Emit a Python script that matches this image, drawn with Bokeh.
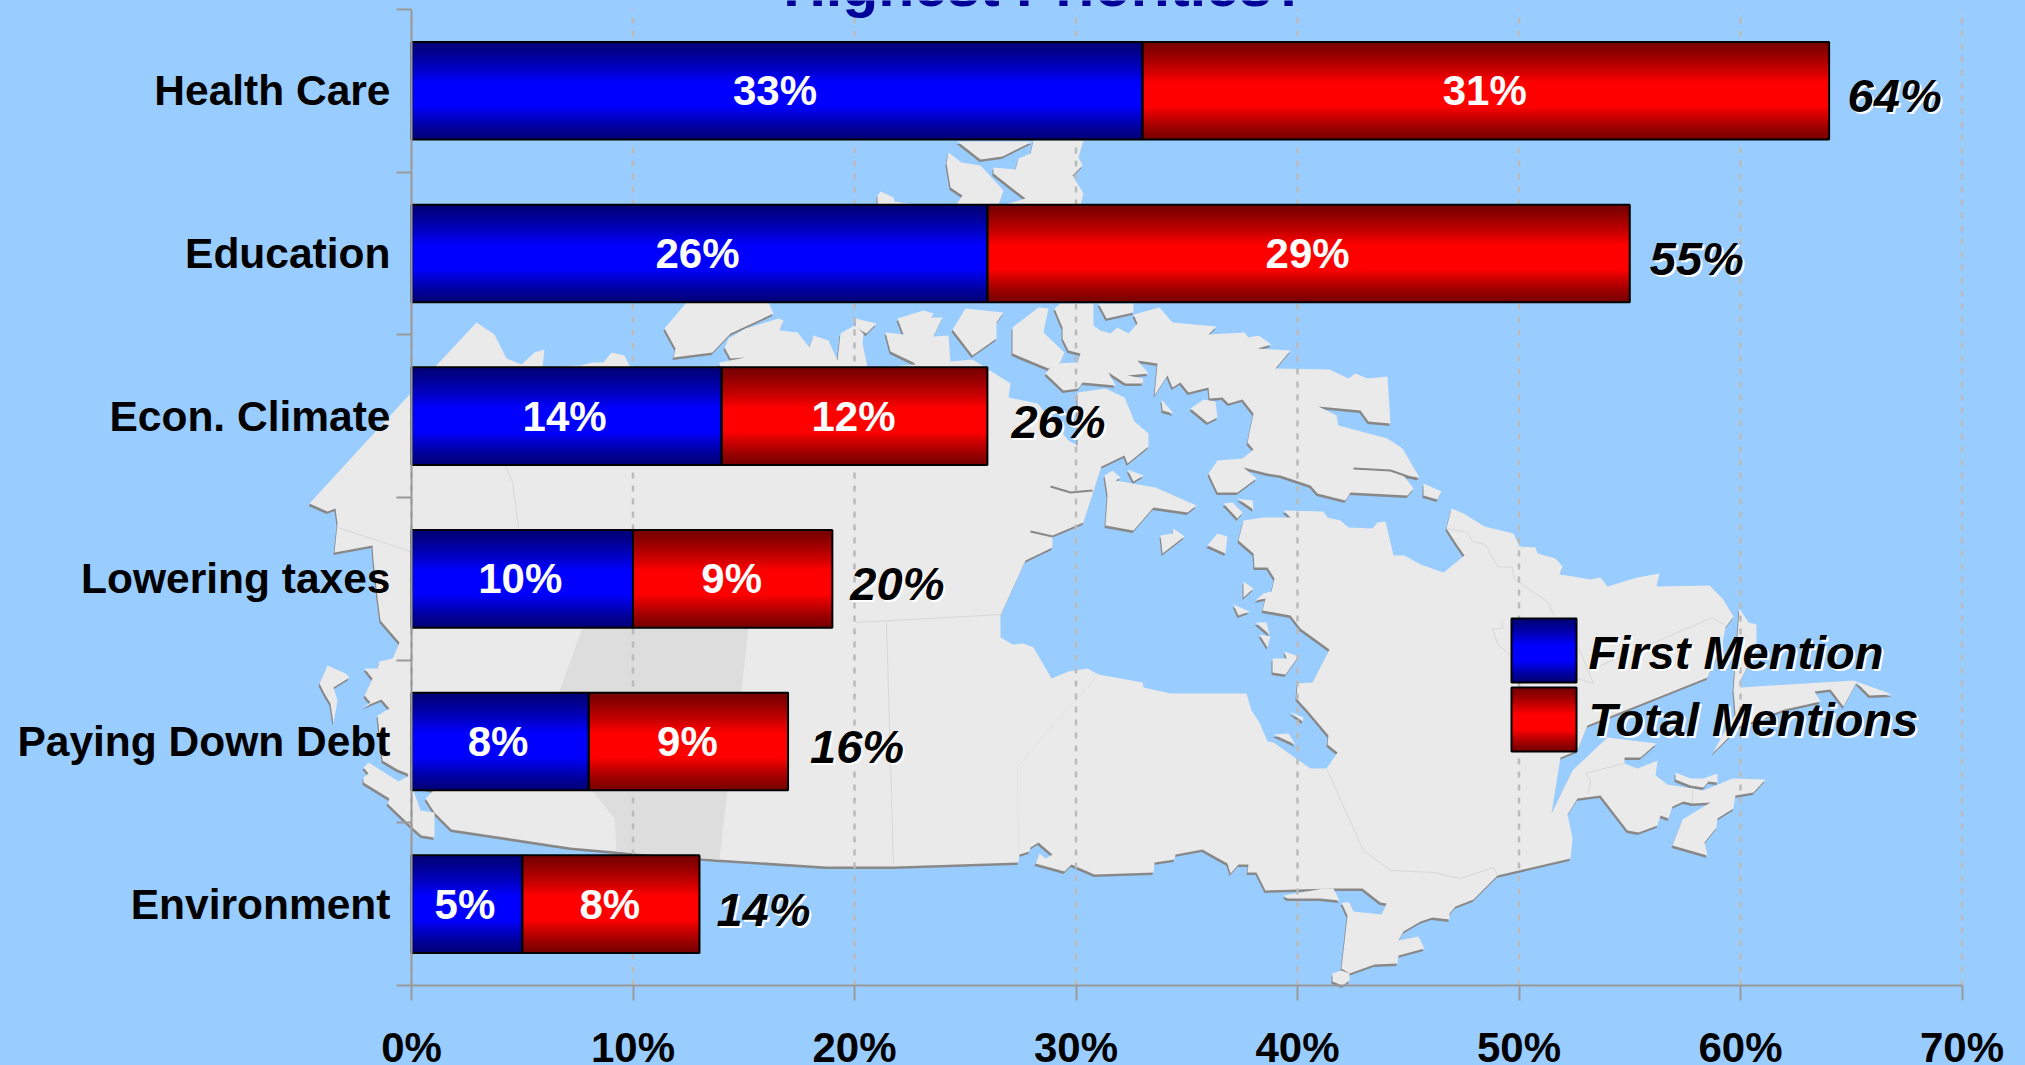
from bokeh.embed import file_html
from bokeh.resources import INLINE
from bokeh.plotting import figure
from bokeh.models import LinearAxis, FixedTicker, ColumnDataSource, Range1d
from bokeh.core.properties import value

# ---- chart data -------------------------------------------------------
categories = ["Health Care", "Education", "Econ. Climate", "Lowering taxes", "Paying Down Debt", "Environment"]
first_mention = [33, 26, 14, 10, 8, 5]
other_mentions = [31, 29, 12, 9, 9, 8]
total_labels = ["64%", "55%", "26%", "20%", "16%", "14%"]
x_ticks = [0, 10, 20, 30, 40, 50, 60, 70]
x_tick_labels = ["0%", "10%", "20%", "30%", "40%", "50%", "60%", "70%"]
legend_labels = ["First Mention", "Total Mentions"]
title_text = "Highest Priorities?"

# ---- layout (page pixels) -----------------------------------------------
W, H = 2025, 1065
X0, PX_PER_UNIT = 411.0, 22.15
Y0, PX_PER_BAND = 985.0, 162.67
BG = "#99CCFF"
FONT = "Liberation Sans"
BAR_H = 0.6
TOTAL_GAPS = [18.5, 20, 24, 18, 22, 17]


def dx(px):
    return (px - X0) / PX_PER_UNIT


def dy(py):
    return (Y0 - py) / PX_PER_BAND


# ---- decorative map outline, traced in page pixels -------------------------
MAP_LAND = [
    # mainland
    [(309,503),(410,393),(434,367),(476,322),(494,334),(506,358),(521,364),(534,352),(544,349),(542,367),
     (556,366),(580,365),(592,362),(603,362),(611,352),(624,355),(630,367),(810,372),(812,466),(820,464),
     (822,372),(972,359),(1010,383),
     (1008,397),(1037,403),(1068,440),(1077,445),(1077,392),(1105,388),(1124,397),(1134,421),(1148,433),
     (1148,446),(1127,463),(1124,455),(1101,466),(1092,494),(1083,522),(1052,535),(1052,547),(1025,560),
     (1000,615),(1000,637),(1012,644),(1023,643),(1033,647),(1051,678),(1068,671),(1087,668),(1098,674),
     (1142,682),(1143,687),(1170,693),(1246,693),(1251,710),(1259,722),(1267,741),(1273,742),(1310,768),
     (1326,768),(1337,752),(1327,744),(1328,735),(1307,710),(1296,698),(1297,683),(1312,682),(1329,649),
     (1300,628),(1290,615),(1262,610),(1265,598),(1255,600),(1263,593),(1271,591),(1274,578),(1267,567),
     (1254,567),(1253,553),(1238,540),(1243,520),(1263,517),(1290,517),(1283,510),(1323,511),(1327,517),
     (1340,520),(1348,527),(1372,528),(1377,522),(1385,521),(1393,555),(1404,555),(1420,564),(1443,572),
     (1464,555),(1455,542),(1446,528),(1451,508),(1463,513),(1484,526),(1513,533),(1519,546),(1535,547),
     (1537,553),(1555,558),(1562,566),(1559,574),(1573,576),(1590,579),(1600,577),(1607,586),(1637,577),
     (1659,573),(1656,586),(1709,585),(1722,598),(1733,616),(1725,627),(1722,643),(1707,677),(1702,679),
     (1587,725),(1577,750),(1560,757),(1551,813),(1572,770),(1607,737),(1656,743),(1640,757),(1624,757),
     (1624,763),(1637,768),(1657,760),(1655,775),(1667,784),(1692,788),(1703,790),(1720,783),(1732,778),
     (1765,779),(1753,792),(1735,795),(1733,808),(1717,818),(1716,827),(1704,842),(1707,855),(1672,845),
     (1682,819),(1710,802),(1692,803),(1683,801),(1672,806),(1668,818),(1660,815),(1657,825),(1638,832),
     (1627,830),(1600,795),(1577,798),(1567,814),(1572,838),(1570,858),(1497,875),(1473,899),(1455,906),
     (1449,913),(1449,919),(1432,917),(1420,921),(1403,931),(1398,940),(1418,936),(1424,948),(1398,955),
     (1397,963),(1374,964),(1349,973),(1341,968),(1347,915),(1341,902),(1349,902),(1353,911),(1381,914),
     (1386,903),(1380,902),(1362,888),(1333,888),(1265,890),(1256,872),(1247,872),(1248,864),(1238,864),
     (1230,873),(1227,863),(1202,849),(1175,854),(1174,859),(1154,862),(1153,872),(1094,874),(1071,864),
     (1064,871),(1035,863),(1039,853),(1045,858),(1052,854),(1038,842),(1030,847),(1029,851),(1019,854),
     (1018,862),(893,866),(826,866),(717,859),(638,853),(570,847),(451,829),(434,812),(425,798),(433,790),
     (412,785),(407,773),(397,769),(382,760),(377,715),(389,708),(381,699),(362,707),(370,702),(364,695),
     (372,678),(364,668),(377,668),(379,661),(392,658),(399,642),(380,620),(377,597),(373,560),(372,545),
     (334,552),(337,523),(335,508),(327,511)],
    # Pelee
    [(1332,973),(1341,970),(1349,973),(1349,980),(1342,985),(1332,981)],
    # Vancouver Island
    [(363,767),(368,773),(363,777),(363,782),(389,798),(387,803),(412,827),(421,835),(434,837),(434,812),
     (420,810),(413,790),(409,775),(398,781),(368,762)],
    # Haida Gwaii
    [(327,665),(345,673),(349,677),(333,687),(337,700),(333,723),(330,703),(324,693),(319,683)],
    # Newfoundland
    [(1739,608),(1748,622),(1756,624),(1756,648),(1740,680),(1740,687),(1853,680),(1892,694),(1869,695),
     (1856,682),(1843,706),(1830,689),(1814,691),(1820,701),(1784,709),(1739,726),(1712,753),(1722,735),
     (1735,714),(1733,690)],
    # Prince Edward Island
    [(1675,772),(1690,778),(1703,778),(1717,773),(1717,782),(1708,781),(1703,787),(1690,785),(1675,779)],
    # Arctic islands
    [(957,141),(980,159),(1002,156),(1032,141)],
    [(948,152),(961,162),(980,165),(1003,190),(998,205),(955,205),(962,195),(950,187),(946,163)],
    [(877,195),(880,191),(893,197),(894,201),(913,204),(877,204)],
    [(993,167),(1015,169),(1018,158),(1030,153),(1033,140),(1083,140),(1078,157),(1082,165),(1072,175),
     (1083,193),(1080,205),(1002,205),(1025,198),(993,173)],
    [(686,302),(768,302),(773,313),(730,333),(712,352),(673,357),(675,348),(664,328)],
    [(724,347),(728,338),(745,328),(778,318),(783,320),(779,330),(797,332),(809,347),(813,335),(828,340),
     (837,360),(840,333),(854,325),(863,333),(862,343),(867,367),(719,367),(719,362),(745,357),(730,358)],
    [(855,318),(876,323),(866,333),(855,327)],
    [(885,332),(903,334),(897,318),(923,310),(933,313),(931,317),(942,317),(933,336),(948,335),(950,362),
     (939,366),(930,363),(927,368),(918,367),(913,362),(890,351)],
    [(952,329),(965,308),(1003,312),(996,322),(996,338),(972,355)],
    [(1012,327),(1038,307),(1048,308),(1043,332),(1064,352),(1060,362),(1048,368),(1012,353)],
    [(1054,308),(1060,303),(1093,303),(1093,325),(1100,330),(1110,333),(1117,327),(1128,333),(1137,323),
     (1133,314),(1159,307),(1172,322),(1216,326),(1208,334),(1244,332),(1248,337),(1258,335),(1271,344),
     (1257,348),(1290,350),(1275,368),(1329,369),(1348,378),(1355,373),(1367,378),(1387,376),(1390,423),
     (1368,421),(1360,410),(1318,406),(1336,415),(1338,425),(1387,438),(1402,448),(1419,477),(1403,475),
     (1413,488),(1407,495),(1350,492),(1345,500),(1317,493),(1310,485),(1280,475),(1267,473),(1243,467),
     (1256,478),(1237,492),(1217,492),(1208,473),(1217,460),(1242,458),(1253,449),(1247,442),(1253,413),
     (1242,399),(1228,403),(1222,397),(1209,398),(1208,387),(1188,392),(1180,382),(1172,387),(1167,375),
     (1154,395),(1157,363),(1137,360),(1148,373),(1127,375),(1143,378),(1142,383),(1125,383),(1108,372),
     (1115,385),(1082,382),(1078,388),(1063,390),(1045,373),(1053,363),(1077,362),(1080,353),(1068,350),
     (1062,338),(1062,327)],
    [(1098,303),(1133,303),(1133,312),(1106,318)],
    [(1161,399),(1173,413),(1162,410)],
    [(1190,408),(1203,399),(1215,401),(1217,417),(1207,422)],
    [(1423,483),(1441,491),(1437,499),(1423,495)],
    [(1104,475),(1112,470),(1120,477),(1115,480),(1155,487),(1196,505),(1187,512),(1153,507),(1133,530),
     (1105,525),(1107,495)],
    [(1127,469),(1143,475),(1133,481)],
    [(1223,503),(1232,502),(1242,512),(1237,518)],
    [(1237,498),(1252,500),(1253,509)],
    [(1160,535),(1172,533),(1173,528),(1184,536),(1162,553)],
    [(1207,545),(1217,533),(1227,536),(1225,553)],
    # Hudson and James Bay islands
    [(1243,581),(1253,588),(1243,597)],
    [(1233,604),(1249,611),(1238,615)],
    [(1255,622),(1266,622),(1269,634)],
    [(1259,634),(1270,636),(1267,647)],
    [(1272,658),(1286,658),(1284,651),(1298,656),(1285,674),(1272,672)],
    [(1289,711),(1303,717),(1302,721)],
    [(1273,734),(1288,733),(1295,744)],
    # Manitoulin
    [(1283,895),(1323,888),(1333,888),(1339,900),(1320,898),(1287,898)],
]
MAP_HIGHLIGHT = [(590,600),(582,627),(559,690),(575,760),(592,790),(614,818),(616,851),(638,853),(717,859),
                 (719,859),(727,789),(741,690),(746,646),(750,600)]
MAP_FOLDS = [
    [(1050,485),(1070,491),(1092,489)],
    [(1030,530),(1052,535)],
    [(1353,467),(1390,469),(1416,478)],
]
MAP_BORDERS = [
    [(504,463),(512,482),(518,527)],
    [(337,527),(410,551)],
    [(886,622),(893,866)],
    [(855,622),(1001,614)],
    [(1326,768),(1363,850),(1390,870),(1433,872),(1460,878),(1493,867),(1497,875)],
    [(1447,528),(1467,532),(1472,541),(1485,544),(1497,566),(1512,567),(1513,578),(1548,602),(1553,615)],
    [(1492,628),(1502,628),(1502,620)],
    [(1492,628),(1497,643),(1520,665)],
    [(1577,678),(1593,683),(1578,647)],
    [(1600,665),(1712,617),(1725,625)],
    [(1585,773),(1623,763)],
    [(1585,773),(1590,780),(1588,793)],
    [(1692,789),(1692,802)],
]
MAP_FAINT_BORDERS = [
    [(1098,674),(1033,747),(1017,767),(1018,853)],
]


def to_xs(poly):
    return [dx(px) for px, _ in poly]


def to_ys(poly):
    return [dy(py) for _, py in poly]


# ---- figure: the frame fills the page, the axes sit inside it ---------------
p = figure(width=W, height=H, output_backend="svg", toolbar_location=None,
           x_axis_location=None, y_axis_location=None,
           x_range=Range1d(dx(0), dx(W)), y_range=Range1d(dy(H), dy(0)),
           min_border=0, min_border_left=0, min_border_right=0, min_border_top=0, min_border_bottom=0,
           background_fill_color=BG, border_fill_color=BG, outline_line_color=None)
p.grid.visible = False

SHADOW_DX, SHADOW_DY = -1, 2.5
p.patches([[dx(a + SHADOW_DX) for a, _ in q] for q in MAP_LAND],
          [[dy(b + SHADOW_DY) for _, b in q] for q in MAP_LAND],
          fill_color="#888888", line_color=None, level="image")
p.patches([to_xs(q) for q in MAP_LAND], [to_ys(q) for q in MAP_LAND],
          fill_color="#EAEAEA", line_color=None, level="image")
p.patch(to_xs(MAP_HIGHLIGHT), to_ys(MAP_HIGHLIGHT), fill_color="#DDDDDD", line_color=None, level="image")
p.multi_line([to_xs(q) for q in MAP_BORDERS], [to_ys(q) for q in MAP_BORDERS],
             line_color="#D8D8D8", line_width=1, level="image")
p.multi_line([to_xs(q) for q in MAP_FAINT_BORDERS], [to_ys(q) for q in MAP_FAINT_BORDERS],
             line_color="#E3E3E3", line_width=1, level="image")
p.multi_line([to_xs(q) for q in MAP_FOLDS], [[dy(b + 1) for _, b in q] for q in MAP_FOLDS],
             line_color="#888888", line_width=2, level="image")

# dashed vertical guides
n = len(categories)
p.segment(x0=x_ticks, y0=[0] * len(x_ticks), x1=x_ticks, y1=[n] * len(x_ticks),
          line_color="#BBBBBB", line_width=2.5, line_dash="6 7", level="underlay")

# ---- bars with the vertical metallic shading ------------------------------
STRIPS = 49


def shade(t):
    if t < 0.42:
        return (t / 0.42) ** 1.25
    if t > 0.66:
        return ((1 - t) / 0.34) ** 1.25
    return 1.0


def blue_at(t):
    return "#%02x%02x%02x" % (0, 0, int(120 + 135 * shade(t)))


def red_at(t):
    return "#%02x%02x%02x" % (int(120 + 135 * shade(t)), 0, 0)


strips = dict(left=[], right=[], top=[], bottom=[], color=[])


def add_strips(left, right, top, bottom, colour):
    step = (top - bottom) / STRIPS
    for i in range(STRIPS):
        strips["left"].append(left)
        strips["right"].append(right)
        strips["top"].append(top - i * step)
        strips["bottom"].append(max(bottom, top - (i + 2) * step))
        strips["color"].append(colour((i + 0.5) / STRIPS))


centers = [n - 0.5 - i for i in range(n)]
outline = dict(left=[], right=[], top=[], bottom=[])
for c, a, b in zip(centers, first_mention, other_mentions):
    top, bottom = c + BAR_H / 2, c - BAR_H / 2
    add_strips(0, a, top, bottom, blue_at)
    add_strips(a, a + b, top, bottom, red_at)
    outline["left"] += [0, a]
    outline["right"] += [a, a + b]
    outline["top"] += [top, top]
    outline["bottom"] += [bottom, bottom]

# legend swatches (drawn from page pixels, they sit outside the data scale)
SWATCH_L, SWATCH_R = 1511, 1576
SWATCH_ROWS = [(618, 682), (687, 751)]
for (t_px, b_px), colour in zip(SWATCH_ROWS, [blue_at, red_at]):
    add_strips(dx(SWATCH_L), dx(SWATCH_R), dy(t_px), dy(b_px), colour)
    outline["left"].append(dx(SWATCH_L))
    outline["right"].append(dx(SWATCH_R))
    outline["top"].append(dy(t_px))
    outline["bottom"].append(dy(b_px))

p.quad(left="left", right="right", top="top", bottom="bottom", fill_color="color",
       line_color=None, source=ColumnDataSource(strips))
p.quad(left="left", right="right", top="top", bottom="bottom", fill_color=None,
       line_color="black", line_width=2, source=ColumnDataSource(outline))

# ---- labels ---------------------------------------------------------------
font = value(FONT)
p.text(x=[a / 2 for a in first_mention], y=centers, text=[f"{a}%" for a in first_mention],
       text_color="white", text_font=font, text_font_style="bold", text_font_size="42px",
       text_align="center", text_baseline="middle", x_offset=-2)
p.text(x=[a + b / 2 for a, b in zip(first_mention, other_mentions)], y=centers,
       text=[f"{b}%" for b in other_mentions],
       text_color="white", text_font=font, text_font_style="bold", text_font_size="42px",
       text_align="center", text_baseline="middle", x_offset=-1)

ends = [a + b for a, b in zip(first_mention, other_mentions)]
TOTAL_DROP = 5
for colour, off in (("white", 2), ("black", 0)):
    p.text(x=ends, y=centers, text=total_labels,
           x_offset=[g + off for g in TOTAL_GAPS], y_offset=TOTAL_DROP + off,
           text_color=colour, text_font=font, text_font_style="bold italic", text_font_size="47px",
           text_align="left", text_baseline="middle")
    p.text(x=[dx(1588)] * 2, y=[dy(652), dy(719)], text=legend_labels, x_offset=off, y_offset=off,
           text_color=colour, text_font=font, text_font_style="bold italic", text_font_size="47px",
           text_align="left", text_baseline="middle")

p.text(x=[dx(1045)], y=[dy(-15)], text=[title_text], text_color="#000099", text_font=font,
       text_font_style="bold", text_font_size="59px", text_align="center", text_baseline="alphabetic")

# ---- axes -----------------------------------------------------------------
AXIS_GREY = "#999999"
xax = LinearAxis(fixed_location=0, ticker=FixedTicker(ticks=x_ticks), bounds=(0, 70),
                 major_label_overrides=dict(zip(x_ticks, x_tick_labels)),
                 axis_line_color=AXIS_GREY, axis_line_width=2,
                 major_tick_line_color=AXIS_GREY, major_tick_line_width=2,
                 major_tick_in=0, major_tick_out=15, minor_tick_line_color=None,
                 major_label_standoff=23, major_label_text_font=FONT,
                 major_label_text_font_style="bold", major_label_text_font_size="42px",
                 major_label_text_color="black")
p.add_layout(xax, "below")

band_edges = list(range(n + 1))
yax = LinearAxis(fixed_location=0, ticker=FixedTicker(ticks=band_edges), bounds=(0, n),
                 major_label_overrides={t: "" for t in band_edges},
                 axis_line_color=AXIS_GREY, axis_line_width=2,
                 major_tick_line_color=AXIS_GREY, major_tick_line_width=2,
                 major_tick_in=0, major_tick_out=15, minor_tick_line_color=None)
p.add_layout(yax, "left")

ylab = LinearAxis(fixed_location=0, ticker=FixedTicker(ticks=centers),
                  major_label_overrides=dict(zip(centers, categories)),
                  axis_line_color=None, major_tick_line_color=None, minor_tick_line_color=None,
                  major_tick_in=0, major_tick_out=0, major_label_standoff=21,
                  major_label_text_font=FONT, major_label_text_font_style="bold",
                  major_label_text_font_size="42.5px", major_label_text_color="black")
p.add_layout(ylab, "left")

STYLE = "<style>html,body{margin:0;padding:0;background:%s;overflow:hidden}</style>" % BG
html = file_html(p, INLINE).replace("</head>", STYLE + "</head>", 1)
open("out.html", "w").write(html)
